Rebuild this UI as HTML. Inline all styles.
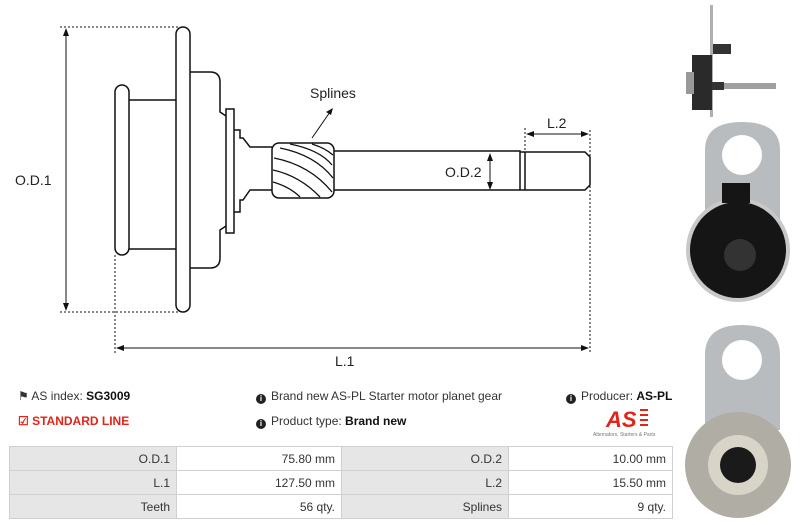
<!DOCTYPE html>
<html><head><meta charset="utf-8"><style>
html,body{margin:0;padding:0;background:#fff;width:800px;height:525px;overflow:hidden;font-family:"Liberation Sans",sans-serif}
.t{position:absolute;font-size:12px;color:#333;white-space:nowrap}
b{color:#111}
.ic{display:inline-block;width:10px;height:10px;border-radius:50%;background:#222;color:#fff;font-size:8px;line-height:10px;text-align:center;font-weight:bold;margin-right:5px;vertical-align:-1px}
table{position:absolute;left:9px;top:446px;width:664px;border-collapse:collapse;font-size:12px;color:#333}
td{height:23px;border:1px solid #d0d0d0;text-align:right;padding:0 6px}
td.l{background:#e6e6e6}
</style></head><body>
<svg width="800" height="525" style="position:absolute;left:0;top:0" font-family="Liberation Sans, sans-serif">
<g fill="none" stroke="#111" stroke-width="1.5">
<g stroke-dasharray="2,2" stroke-width="1">
<line x1="60" y1="27" x2="180" y2="27"/><line x1="60" y1="312" x2="180" y2="312"/>
<line x1="115" y1="255" x2="115" y2="353"/><line x1="590" y1="130" x2="590" y2="353"/>
<line x1="525" y1="128" x2="525" y2="152"/>
</g>
<line x1="66" y1="32" x2="66" y2="307" stroke-width="1"/>
<line x1="120" y1="348" x2="585" y2="348" stroke-width="1"/>
<line x1="530" y1="134" x2="585" y2="134" stroke-width="1"/>
<line x1="490" y1="158" x2="490" y2="185" stroke-width="1"/>
<line x1="312" y1="138" x2="330" y2="112" stroke-width="1"/>
<rect x="115" y="85" width="14" height="170" rx="7"/>
<line x1="129" y1="100" x2="176" y2="100"/><line x1="129" y1="249" x2="176" y2="249"/>
<rect x="176" y="27" width="14" height="285" rx="7"/>
<path d="M190 72 H210 Q220 72 220 82 V112 L226 116 M226 226 L220 230 V258 Q220 268 210 268 H190"/>
<rect x="226" y="109" width="8" height="124"/>
<path d="M234 130 H240 V138 H243 L250 147 H272 M272 190 H250 L243 200 H240 V212 H234"/>
<rect x="272" y="143" width="62" height="55" rx="7"/>
<path d="M334 151 H520 V190 H334 M520 152 H525 V190 H520 M525 152 H585 L590 157 V185 L585 190 H525"/>
<g stroke-width="1.3">
<path d="M290 144 Q320 150 332 165"/><path d="M280 148 Q315 155 333 178"/><path d="M274 158 Q310 165 332 192"/>
<path d="M273 170 Q300 176 320 197"/><path d="M273 182 Q290 187 300 197"/><path d="M312 144 Q325 148 333 155"/>
</g>
</g>
<g fill="#111">
<path d="M66 28 l-3 8 h6z"/><path d="M66 311 l-3 -8 h6z"/>
<path d="M116 348 l8 -3 v6z"/><path d="M589 348 l-8 -3 v6z"/>
<path d="M526 134 l8 -3 v6z"/><path d="M589 134 l-8 -3 v6z"/>
<path d="M490 153 l-3 8 h6z"/><path d="M490 190 l-3 -8 h6z"/>
<path d="M333 108 l-7 4 l5 3z"/>
</g>
<g font-size="14" fill="#222">
<text x="15" y="185">O.D.1</text><text x="335" y="366">L.1</text>
<text x="547" y="128">L.2</text><text x="445" y="177">O.D.2</text>
<text x="310" y="98">Splines</text>
</g>
<g>
<rect x="710" y="5" width="3" height="112" fill="#b0b0b0"/>
<rect x="692" y="55" width="20" height="55" fill="#2a2a2a"/>
<rect x="686" y="72" width="8" height="22" fill="#999"/>
<rect x="713" y="44" width="18" height="10" fill="#333"/>
<rect x="712" y="82" width="12" height="8" fill="#333"/>
<rect x="724" y="83" width="52" height="6" fill="#a0a0a0"/>
<path d="M705 150 Q705 122 742 122 Q780 122 780 150 V230 H705z" fill="#b8bcbf"/>
<circle cx="742" cy="155" r="20" fill="#fff"/>
<circle cx="738" cy="250" r="52" fill="#c8c8c8"/><circle cx="738" cy="250" r="48" fill="#151515"/>
<rect x="722" y="183" width="28" height="20" fill="#151515"/>
<circle cx="740" cy="255" r="16" fill="#333"/>
<path d="M705 355 Q705 325 742 325 Q780 325 780 355 V430 H705z" fill="#b8bcbf"/>
<circle cx="742" cy="360" r="20" fill="#fff"/>
<circle cx="738" cy="465" r="53" fill="#b0ada5"/><circle cx="738" cy="465" r="30" fill="#d8d4c8"/><circle cx="738" cy="465" r="18" fill="#1a1a1a"/>
</g>
<text x="606" y="427" font-size="22" font-weight="bold" font-style="italic" fill="#e2231a">AS</text>
<g fill="#e2231a"><rect x="640" y="409" width="8" height="2"/><rect x="640" y="414" width="8" height="2"/><rect x="640" y="419" width="8" height="2"/><rect x="640" y="424" width="8" height="2"/></g>
<text x="593" y="436" font-size="5" fill="#777">Alternators, Starters &amp; Parts</text>
</svg>
<div class="t" style="left:18px;top:389px">&#9873; AS index: <b>SG3009</b></div>
<div class="t" style="left:18px;top:414px;color:#e2231a;font-weight:bold">&#9745; STANDARD LINE</div>
<div class="t" style="left:256px;top:389px"><span class="ic">i</span>Brand new AS-PL Starter motor planet gear</div>
<div class="t" style="left:256px;top:414px"><span class="ic">i</span>Product type: <b>Brand new</b></div>
<div class="t" style="left:566px;top:389px"><span class="ic">i</span>Producer: <b>AS-PL</b></div>
<table>
<tr><td class="l" style="width:154px">O.D.1</td><td style="width:152px">75.80 mm</td><td class="l" style="width:154px">O.D.2</td><td>10.00 mm</td></tr>
<tr><td class="l">L.1</td><td>127.50 mm</td><td class="l">L.2</td><td>15.50 mm</td></tr>
<tr><td class="l">Teeth</td><td>56 qty.</td><td class="l">Splines</td><td>9 qty.</td></tr>
</table>
</body></html>
